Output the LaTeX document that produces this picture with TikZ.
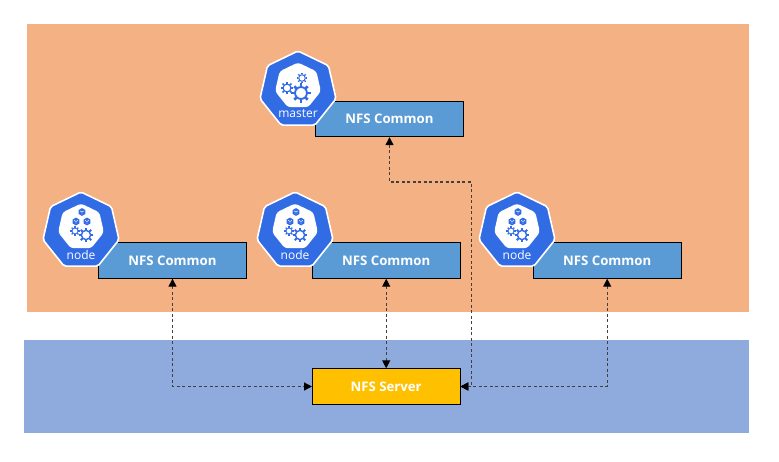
\documentclass[tikz,border=0pt]{standalone}
\usepackage{fontspec}
\setmainfont{Open Sans}
\usetikzlibrary{arrows.meta,shapes.geometric}
\definecolor{kblue}{HTML}{326CE5}
\definecolor{bgorange}{HTML}{F4B183}
\definecolor{bgblue}{HTML}{8FAADC}
\definecolor{boxblue}{HTML}{5B9BD5}
\definecolor{boxyellow}{HTML}{FFC000}
\tikzset{
  nfsbox/.style={draw=black,line width=0.9pt,fill=boxblue,text=white,minimum width=147.5pt,minimum height=35.5pt,inner sep=0pt,font=\fontsize{13.2pt}{15pt}\selectfont\bfseries},
  serverbox/.style={nfsbox,fill=boxyellow},
  link/.style={draw=black!75,line width=1.2pt,dash pattern=on 3pt off 2.5pt,{Triangle[length=8pt,width=8pt,black]}-{Triangle[length=8pt,width=8pt,black]}},
  outerhept/.style={regular polygon,regular polygon sides=7,draw=white,fill=kblue,line width=1.6pt,minimum size=78pt,inner sep=0pt,outer sep=0pt,rounded corners=2pt},
  innerhept/.style={regular polygon,regular polygon sides=7,fill=white,draw=none,minimum size=47pt,inner sep=0pt,outer sep=0pt,rounded corners=3pt},
  iconlabel/.style={text=white,inner sep=0pt,font=\fontsize{12pt}{14pt}\selectfont},
}
\newcommand{\gearat}[3]{%
  \foreach \a in {0,45,...,315}{
    \draw[kblue,line width=#3*0.28pt] (#1,#2)++(\a:#3*0.72pt) -- ++(\a:#3*0.34pt);
  }
  \draw[kblue,line width=#3*0.2pt] (#1,#2) circle[radius=#3*0.66pt];
}
\newcommand{\cubeat}[2]{%
  \fill[kblue] (#1,#2)++(90:3.9pt) -- ++(-30:3.9pt) -- ++(-90:3.9pt) -- ++(-150:3.9pt) -- ++(150:3.9pt) -- ++(90:3.9pt) -- cycle;
  \draw[white,line width=0.45pt] (#1,#2)++(-90:2.4pt) -- ++(90:2.4pt) -- ++(150:2.2pt) (#1,#2) -- ++(30:2.2pt);
}
\begin{document}
\begin{tikzpicture}[x=1pt,y=-1pt]
\useasboundingbox (0,0) rectangle (779,461);
\fill[white] (0,0) rectangle (779,461);
\fill[bgorange] (27,24) rectangle (748.5,312);
\fill[bgblue] (24,340) rectangle (748.5,433);

\node[nfsbox] (cm) at (389.5,119) {NFS Common};
\node[nfsbox] (c1) at (172.5,260.5) {NFS Common};
\node[nfsbox] (c2) at (386.2,260.5) {NFS Common};
\node[nfsbox] (c3) at (607.2,260.5) {NFS Common};
\node[serverbox] (srv) at (386.2,386.5) {NFS Server};

\coordinate (m1) at (389.5,182);
\coordinate (m2) at (471.5,182);
\coordinate (m3) at (471.5,386.5);
\coordinate (a1) at (172.5,386.5);
\coordinate (a3) at (607.2,386.5);
\draw[link] (cm.south) -- (m1) -- (m2) -- (m3) -- (srv.east);
\draw[link] (c1.south) -- (a1) -- (srv.west);
\draw[link] (c2.south) -- (srv.north);
\draw[link] (c3.south) -- (a3) -- (srv.east);

% master icon
\begin{scope}[shift={(298,90)}]
  \node[outerhept] (hm) at (0,0) {};
  \node[innerhept] (im) at (0,-4) {};
  \gearat{-11}{-2}{6}
  \gearat{4}{-12}{5}
  \gearat{3}{3}{9}
  \node[iconlabel] (lm) at (0,24) {master};
\end{scope}
% node icons
\foreach \cx/\nm in {81/a,295/b,517/c}{
\begin{scope}[shift={(\cx,231)}]
  \node[outerhept] (h\nm) at (0,0) {};
  \node[innerhept] (i\nm) at (0,-4) {};
  \cubeat{1}{-19}
  \cubeat{-5}{-9.5}
  \cubeat{6}{-9.5}
  \gearat{-6}{0}{4.5}
  \gearat{5}{4}{7}
  \node[iconlabel] (l\nm) at (0,24) {node};
\end{scope}
}
\end{tikzpicture}
\end{document}
